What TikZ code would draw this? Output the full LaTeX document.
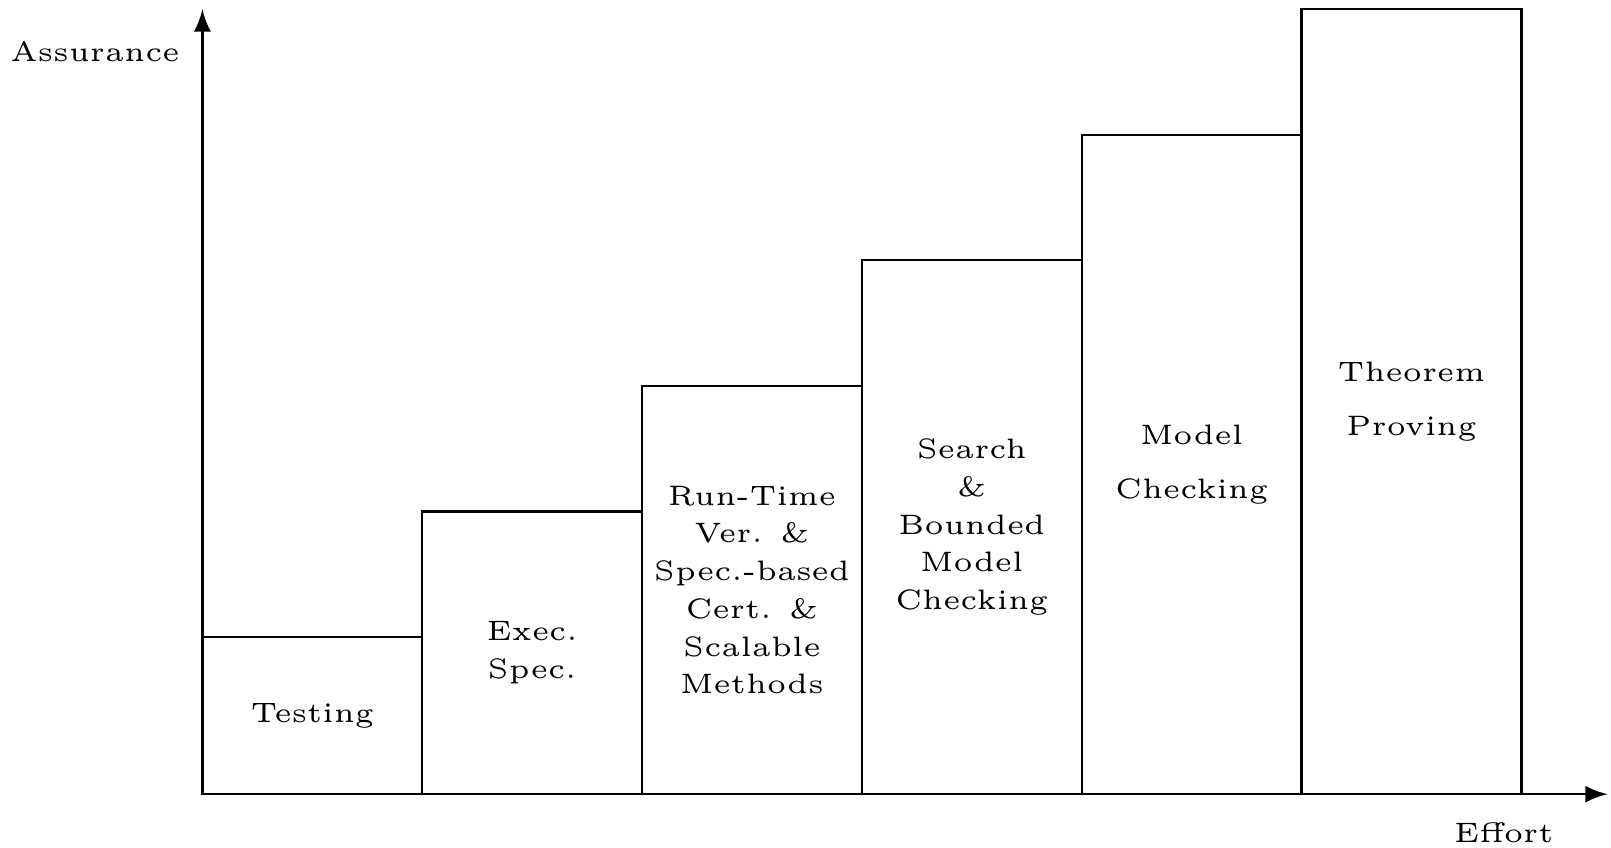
\documentclass[tikz,border=0pt]{standalone}
\begin{document}
\begin{tikzpicture}[scale=0.9814,font=\fontsize{5}{6.7}\selectfont]
                 \useasboundingbox (-1.289,-0.342) rectangle (8.971,5.058);
                 \draw(0,0) rectangle (1.4,1);
                 \draw(1.4,0) rectangle (2.8,1.8);
                 \draw(2.8,0) rectangle (4.2,2.6);
                 \draw(4.2,0) rectangle (5.6,3.4);
                 \draw(5.6,0) rectangle (7,4.2);
                 \draw(7,0) rectangle (8.4,5);
                 \draw[-latex](0,0)--(8.95,0);
                 \draw[-latex](0,0)--(0,5);
                   \node (testing) at (0.7,0.5) {Testing};
                   \node[align=center] (execspec) at (2.1,0.9) {Exec.\\Spec.};
                   \node[align=center] (runtime) at (3.5,1.3) {Run-Time\\Ver. \&\\Spec.-based\\Cert. \&\\Scalable\\Methods};
                   \node[align=center] (search) at (4.9,1.7) {Search\\\&\\Bounded\\Model\\Checking};
                   \node[align=center] (modelcheck) at (6.3,2.1) {Model\\[2.8pt]Checking};
                   \node[align=center] (theorem) at (7.7,2.5) {Theorem\\[2.8pt]Proving};
                   \node (assurance) at (-0.684,4.728) {Assurance};
                   \node (effort) at (8.289,-0.248) {Effort};
            \end{tikzpicture}
\end{document}
